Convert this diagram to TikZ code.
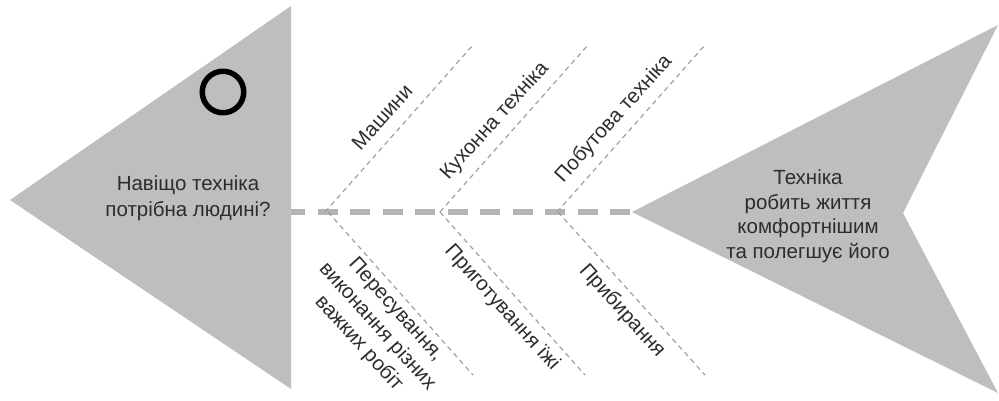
\documentclass[tikz,border=0pt]{standalone}
\usepackage{fontspec}
\setmainfont{Liberation Sans}
\definecolor{fishgray}{RGB}{190,190,192}
\definecolor{spinegray}{RGB}{180,180,180}
\definecolor{bonegray}{RGB}{160,160,160}
\definecolor{txt}{RGB}{45,45,45}
\begin{document}
\begin{tikzpicture}[x=1pt,y=-1pt,
  lbl/.style={text=txt,font=\fontsize{20.5}{25}\selectfont,align=center,inner sep=0pt},
  bone/.style={draw=bonegray,line width=1.2pt,dash pattern=on 5pt off 4pt},
  spine/.style={draw=spinegray,line width=6.5pt,dash pattern=on 20pt off 12.5pt}]
\useasboundingbox (0,0) rectangle (999,401);
% spine
\coordinate (sp0) at (285,212);
\coordinate (tip) at (632,212);
\draw[spine] (sp0) -- (tip);
% head (left triangle)
\fill[fishgray] (10,200) -- (291,6) -- (291,389) -- cycle;
\node[draw=black,line width=5.5pt,circle,minimum size=41.5pt,inner sep=0pt] (eye) at (223,92) {};
\node[lbl,font=\fontsize{20.5}{26}\selectfont] (q) at (188,198) {Навіщо техніка\\потрібна людині?};
% tail (right shape)
\fill[fishgray] (tip) -- (998,25) -- (903,213) -- (998,393) -- cycle;
\node[lbl,font=\fontsize{20.5}{24.5}\selectfont] (a) at (808,216) {Техніка\\робить життя\\комфортнішим\\та полегшує його};
% upper bones
\coordinate (u1s) at (325,212); \coordinate (u1e) at (473,45);
\coordinate (u2s) at (440,212); \coordinate (u2e) at (588,45);
\coordinate (u3s) at (557,212); \coordinate (u3e) at (705,45);
\draw[bone] (u1s) -- (u1e);
\draw[bone] (u2s) -- (u2e);
\draw[bone] (u3s) -- (u3e);
% lower bones
\coordinate (l1s) at (328,212); \coordinate (l1e) at (473,375);
\coordinate (l2s) at (440,212); \coordinate (l2e) at (585,375);
\coordinate (l3s) at (558,212); \coordinate (l3e) at (705,375);
\draw[bone] (l1s) -- (l1e);
\draw[bone] (l2s) -- (l2e);
\draw[bone] (l3s) -- (l3e);
% labels
\node[lbl,rotate=48] (m1) at (382,117) {Машини};
\node[lbl,rotate=48] (m2) at (495,121) {Кухонна техніка};
\node[lbl,rotate=48] (m3) at (614,119) {Побутова техніка};
\node[lbl,rotate=-48] (n1) at (377,327) {Пересування,\\виконання різних\\важких робіт};
\node[lbl,rotate=-48] (n2) at (502,308) {Приготування їжі};
\node[lbl,rotate=-48] (n3) at (622,311) {Прибирання};
\end{tikzpicture}
\end{document}
